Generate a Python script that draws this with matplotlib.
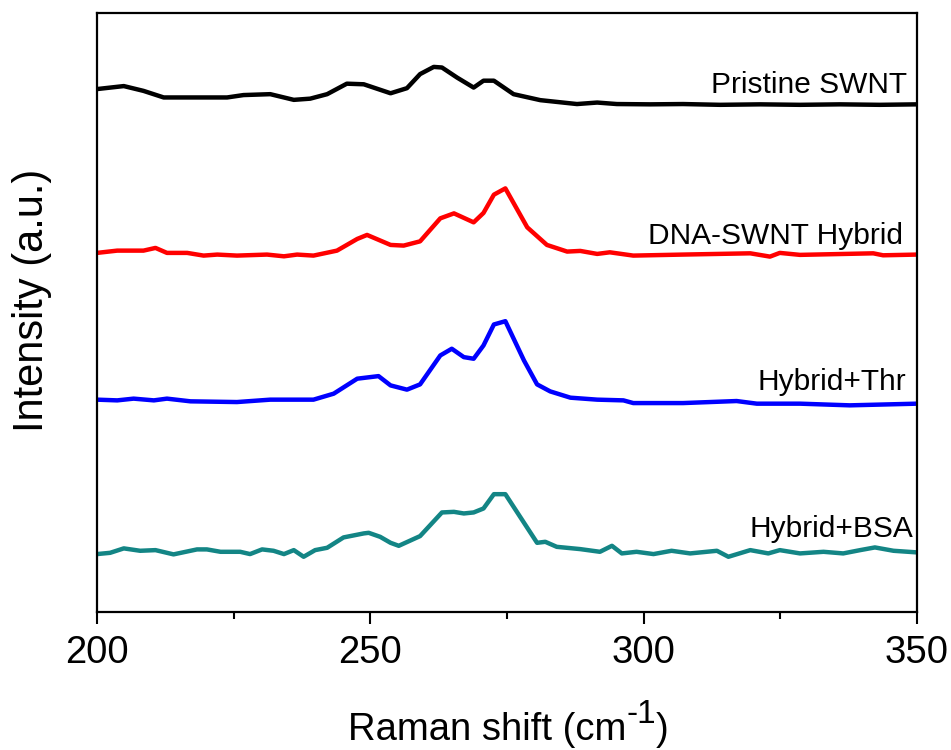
import matplotlib
matplotlib.use("Agg")
import matplotlib.pyplot as plt
from matplotlib.ticker import MultipleLocator

plt.rcParams['font.family'] = ['Liberation Sans', 'DejaVu Sans']

# ---- data (Raman shift in cm^-1, intensity in a.u. with vertical offsets) ----
pristine_x = [200, 204.9, 208.5, 212.2, 220.1, 223.8, 226.8, 231.7, 236.0, 239.0, 242.1,
              245.7, 248.8, 253.7, 256.7, 259.1, 261.6, 263.1, 265.9, 268.9, 270.7, 272.6,
              276.2, 281.1, 287.8, 291.5, 295.1, 301.2, 307.2, 314.0, 321.3, 328.6, 335.9,
              343.2, 350]
pristine_y = [87.3, 87.8, 87.0, 85.9, 85.9, 85.9, 86.3, 86.45, 85.5, 85.7, 86.45,
              88.2, 88.1, 86.6, 87.45, 89.8, 91.0, 90.9, 89.2, 87.55, 88.7, 88.7,
              86.45, 85.45, 84.8, 85.05, 84.8, 84.75, 84.8, 84.67, 84.75, 84.67, 84.75,
              84.67, 84.75]

dna_x = [200, 203.7, 208.5, 210.7, 212.8, 216.5, 219.5, 222.0, 225.6, 231.1, 234.2,
         236.6, 239.6, 243.9, 247.6, 249.4, 253.7, 256.1, 259.1, 262.8, 265.3, 268.9,
         270.7, 272.6, 274.7, 278.7, 282.3, 286.0, 288.4, 291.5, 293.8, 298.1, 307.2,
         319.5, 323.1, 324.9, 328.6, 342.0, 343.8, 350]
dna_y = [59.95, 60.33, 60.33, 60.78, 59.95, 59.95, 59.5, 59.67, 59.5, 59.67, 59.38,
         59.67, 59.5, 60.33, 62.28, 62.95, 61.28, 61.17, 61.88, 65.72, 66.55, 65.05,
         66.62, 69.67, 70.72, 64.22, 61.28, 60.17, 60.28, 59.78, 60.05, 59.5, 59.67,
         59.88, 59.33, 59.95, 59.62, 59.88, 59.55, 59.67]

thr_x = [200, 203.7, 206.7, 210.4, 212.8, 217.1, 225.6, 231.7, 239.6, 243.3, 247.6,
         251.5, 253.7, 256.7, 259.1, 262.8, 264.9, 267.1, 268.9, 270.7, 272.6, 274.7,
         278.1, 280.5, 282.9, 286.6, 291.5, 296.3, 298.1, 307.2, 317.0, 320.7, 328.6,
         337.7, 350]
thr_y = [35.45, 35.33, 35.62, 35.33, 35.62, 35.17, 35.05, 35.45, 35.45, 36.45, 38.95,
         39.38, 37.83, 37.12, 38.0, 42.83, 43.95, 42.55, 42.28, 44.5, 48.0, 48.55,
         42.0, 38.0, 36.83, 35.78, 35.45, 35.33, 34.88, 34.88, 35.22, 34.78, 34.78,
         34.5, 34.78]

bsa_x = [200, 202.4, 204.9, 207.9, 210.7, 214.0, 218.3, 220.1, 222.6, 226.2, 228.0,
         230.2, 232.3, 234.2, 236.0, 237.8, 239.9, 242.1, 245.1, 248.8, 249.7, 251.8,
         253.7, 255.2, 259.1, 263.1, 265.3, 267.1, 268.9, 270.7, 272.6, 274.7, 280.5,
         282.0, 284.1, 288.4, 292.0, 294.2, 296.0, 298.7, 301.8, 305.1, 308.5, 313.4,
         315.5, 319.5, 322.8, 324.9, 328.6, 332.9, 336.5, 339.6, 342.3, 345.7, 350]
bsa_y = [9.67, 9.88, 10.62, 10.22, 10.33, 9.62, 10.45, 10.45, 10.05, 10.05, 9.67,
         10.45, 10.22, 9.67, 10.33, 9.22, 10.33, 10.72, 12.45, 13.12, 13.22, 12.55,
         11.55, 11.05, 12.67, 16.62, 16.72, 16.45, 16.62, 17.28, 19.67, 19.67, 11.55,
         11.72, 10.88, 10.5, 10.05, 11.05, 9.78, 10.05, 9.67, 10.22, 9.78, 10.22,
         9.22, 10.33, 9.78, 10.33, 9.78, 10.05, 9.78, 10.33, 10.78, 10.22, 9.95]

labels = ["Pristine SWNT", "DNA-SWNT Hybrid", "Hybrid+Thr", "Hybrid+BSA"]
colors = ["#000000", "#ff0000", "#0000ff", "#138585"]
label_pos = [(348.1, 86.7), (347.5, 61.45), (348.0, 37.0), (349.3, 12.45)]

xticks = [200, 250, 300, 350]

W, H = 951, 750
fig = plt.figure(figsize=(W / 100, H / 100), dpi=100)
ax = fig.add_axes([97 / W, 138 / H, 820 / W, 599 / H])

series = [(pristine_x, pristine_y), (dna_x, dna_y), (thr_x, thr_y), (bsa_x, bsa_y)]
for (xs, ys), c in zip(series, colors):
    ax.plot(xs, ys, color=c, lw=3.2, solid_joinstyle='round', solid_capstyle='butt')

for lab, (lx, ly) in zip(labels, label_pos):
    ax.text(lx, ly, lab, ha='right', va='baseline', fontsize=21.5, color='black')

ax.set_xlim(200, 350)
ax.set_ylim(0, 100)
ax.set_xticks(xticks)
ax.xaxis.set_minor_locator(MultipleLocator(25))
ax.set_yticks([])
ax.tick_params(axis='x', which='major', direction='out', length=8.6, width=1.5,
               labelsize=27.5, pad=8)
ax.tick_params(axis='x', which='minor', direction='out', length=5, width=1.5)
for s in ax.spines.values():
    s.set_linewidth(1.6)

# y label
ax.set_ylabel("Intensity (a.u.)", fontsize=30)
ax.yaxis.set_label_coords(-0.055, 0.52)

# x label with a full-size raised superscript
fig.canvas.draw()
r = fig.canvas.get_renderer()
base_y = 1 - 740 / H
t1 = fig.text(0, base_y, "Raman shift (cm", fontsize=27.5, ha='left', va='baseline')
w1 = t1.get_window_extent(r).width
t2 = fig.text(0, base_y, "-1", fontsize=24, ha='left', va='baseline')
w2 = t2.get_window_extent(r).width
t3 = fig.text(0, base_y, ")", fontsize=27.5, ha='left', va='baseline')
w3 = t3.get_window_extent(r).width
total = w1 + w2 + w3
x0 = 508 - total / 2
t1.set_x(x0 / W)
t2.set_x((x0 + w1) / W)
t2.set_y(base_y + 17 / H)
t3.set_x((x0 + w1 + w2) / W)

fig.savefig("out.png", dpi=100)
